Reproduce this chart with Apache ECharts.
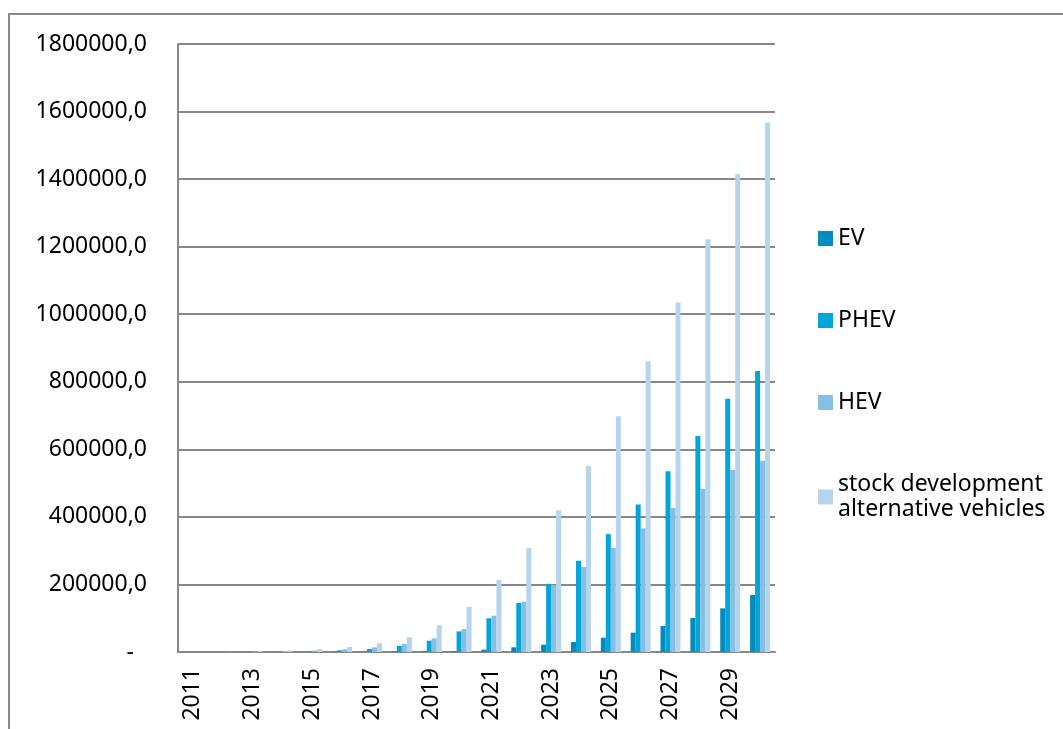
<!DOCTYPE html>
<html>
<head>
<meta charset="utf-8">
<script src="https://cdn.jsdelivr.net/npm/echarts@6/dist/echarts.min.js"></script>
<style>
  html, body { margin: 0; padding: 0; background: #fff; }
  #chart { width: 1063px; height: 729px; }
</style>
</head>
<body>
<div id="chart"></div>
<script>
// Alternative vehicle stock, 2011-2030
const years = ['2011','2012','2013','2014','2015','2016','2017','2018','2019','2020',
               '2021','2022','2023','2024','2025','2026','2027','2028','2029','2030'];

const ev = [0, 0, 0, 200, 400, 700, 1100, 1700, 2500, 3000,
            7000, 13900, 21700, 29600, 42400, 57200, 77000, 100700, 129300, 168800];

const phev = [0, 300, 700, 1500, 2500, 5000, 9000, 18000, 33500, 61000,
              99800, 145000, 202000, 270000, 349000, 437000, 535000, 639500, 750000, 832000];

const hev = [0, 500, 1500, 3000, 4500, 8000, 14000, 24000, 40500, 68000,
             107500, 149000, 198000, 251600, 308000, 366000, 426000, 483500, 538800, 566400];

const stock = [0, 800, 2500, 5000, 8500, 15000, 26000, 44000, 79000, 134000,
               213000, 308000, 419500, 550700, 697700, 860600, 1035000, 1221800, 1415000, 1567000];

const seriesNames = ['EV', 'PHEV', 'HEV', 'stock development\nalternative vehicles'];
const colors = ['#008cbe', '#00a5db', '#86bfe4', '#b6d4ec'];

const FONT = 'Noto Sans';
const FONT_SIZE = 23;
const GRID_GRAY = '#888888';

const chart = echarts.init(document.getElementById('chart'), null, { renderer: 'canvas' });

function bar(name, data, color) {
  return {
    name: name,
    type: 'bar',
    data: data,
    itemStyle: { color: color },
    barGap: '0%',
    barCategoryGap: '33%',
    animation: false
  };
}

chart.setOption({
  backgroundColor: '#ffffff',
  animation: false,
  color: colors,
  grid: { left: 178, top: 44, right: 288, bottom: 77, containLabel: false },
  legend: {
    orient: 'vertical',
    left: 813,
    top: 221,
    itemWidth: 15,
    itemHeight: 15,
    itemGap: 57,
    icon: 'rect',
    data: seriesNames,
    textStyle: { fontFamily: FONT, fontSize: FONT_SIZE, color: '#000', lineHeight: 25 }
  },
  xAxis: {
    type: 'category',
    data: years,
    axisLine: { show: true, lineStyle: { color: GRID_GRAY, width: 2 } },
    axisTick: { show: false },
    axisLabel: {
      interval: 1,
      rotate: 90,
      margin: 16,
      fontFamily: FONT,
      fontSize: FONT_SIZE,
      color: '#000'
    }
  },
  yAxis: {
    type: 'value',
    min: 0,
    max: 1800000,
    interval: 200000,
    axisLine: { show: true, lineStyle: { color: GRID_GRAY, width: 2 } },
    axisTick: { show: false },
    splitLine: { show: true, lineStyle: { color: GRID_GRAY, width: 2 } },
    axisLabel: {
      margin: 31,
      fontFamily: FONT,
      fontSize: FONT_SIZE,
      color: '#000',
      formatter: function (v) {
        if (v === 0) return '{dash|-}';
        return v.toFixed(1).replace('.', ',');
      },
      rich: {
        dash: { fontFamily: FONT, fontSize: FONT_SIZE, color: '#000', padding: [0, 13, 0, 0] }
      }
    }
  },
  graphic: [{
    type: 'polyline',
    silent: true,
    shape: { points: [[9, 729], [9, 14], [1063, 14]] },
    style: { stroke: '#888888', lineWidth: 2, fill: null }
  }],
  series: [
    bar(seriesNames[0], ev, colors[0]),
    bar(seriesNames[1], phev, colors[1]),
    bar(seriesNames[2], hev, colors[2]),
    bar(seriesNames[3], stock, colors[3])
  ]
});
</script>
</body>
</html>
